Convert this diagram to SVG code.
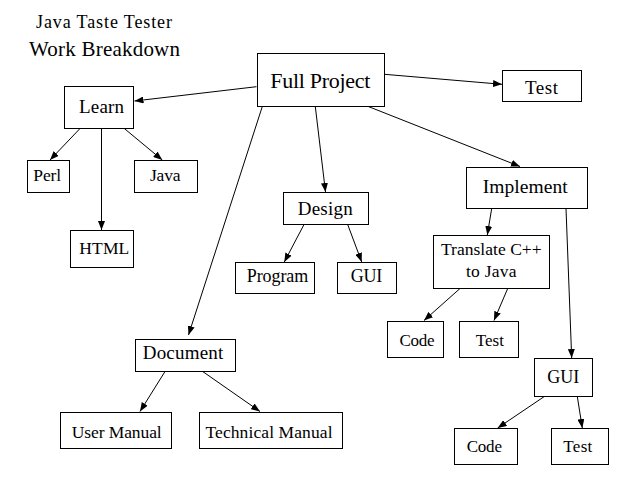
<svg xmlns="http://www.w3.org/2000/svg" width="640" height="480" viewBox="0 0 640 480">
<defs>
<marker id="ah" markerUnits="userSpaceOnUse" markerWidth="9" markerHeight="7" refX="9" refY="3.5" orient="auto">
<path d="M0,0 L9,3.5 L0,7 z" fill="#000"/>
</marker>
<style>
rect{fill:#fff;stroke:#000;stroke-width:1}
text{font-family:"Liberation Serif","Times New Roman",serif;fill:#000;text-anchor:middle}
.c line{stroke:#000;stroke-width:1;marker-end:url(#ah)}
.t{text-anchor:start}
</style>
</defs>
<rect x="0" y="0" width="640" height="480" style="stroke:none"/>
<g id="title">
<text class="t" x="36" y="27.5" font-size="18" textLength="136">Java Taste Tester</text>
<text class="t" x="29" y="56" font-size="21" textLength="151">Work Breakdown</text>
</g>
<g class="c" id="connectors">
<line x1="256.5" y1="86.7" x2="134.5" y2="101"/>
<line x1="384.5" y1="74.3" x2="502" y2="84.3"/>
<line x1="262.3" y1="106.5" x2="188.5" y2="335"/>
<line x1="315.3" y1="106.5" x2="325.5" y2="192"/>
<line x1="368.3" y1="106.5" x2="520" y2="166.5"/>
<line x1="80" y1="128.5" x2="50" y2="160"/>
<line x1="101.5" y1="128.5" x2="101.5" y2="230"/>
<line x1="124.3" y1="128.5" x2="162.3" y2="160"/>
<line x1="304" y1="224.5" x2="284.3" y2="262"/>
<line x1="347.7" y1="224.5" x2="361.7" y2="262"/>
<line x1="491.7" y1="208.5" x2="487.3" y2="235"/>
<line x1="566" y1="208.5" x2="571.7" y2="358"/>
<line x1="460" y1="288.5" x2="424" y2="320.5"/>
<line x1="507.7" y1="288.5" x2="494" y2="320.5"/>
<line x1="165" y1="371.5" x2="140" y2="411.5"/>
<line x1="202.7" y1="371.5" x2="260" y2="411.5"/>
<line x1="544.3" y1="396.5" x2="497.7" y2="428"/>
<line x1="577.3" y1="396.5" x2="582.3" y2="428"/>
</g>
<g id="full-project"><rect x="257.5" y="53.5" width="127" height="53"/><text x="320.3" y="87.7" font-size="22" textLength="100">Full Project</text></g>
<g id="test-top"><rect x="502.5" y="70.5" width="79" height="31"/><text x="541.5" y="94" font-size="19" textLength="33">Test</text></g>
<g id="learn"><rect x="64.5" y="86.5" width="69" height="42"/><text x="101.5" y="112.7" font-size="19" textLength="45">Learn</text></g>
<g id="perl"><rect x="27.5" y="160.5" width="42" height="32"/><text x="47.2" y="180.7" font-size="17.5" textLength="27.7">Perl</text></g>
<g id="java"><rect x="134.5" y="160.5" width="63" height="32"/><text x="165.3" y="180.7" font-size="17.5" textLength="30.7">Java</text></g>
<g id="html"><rect x="70.5" y="230.5" width="63" height="37"/><text x="104.3" y="254" font-size="17.5" textLength="50">HTML</text></g>
<g id="design"><rect x="283.5" y="192.5" width="85" height="32"/><text x="325.2" y="215" font-size="19" textLength="55">Design</text></g>
<g id="program"><rect x="235.5" y="262.5" width="79" height="31"/><text x="277.5" y="281.7" font-size="18" textLength="61.6">Program</text></g>
<g id="gui-design"><rect x="337.5" y="262.5" width="59" height="31"/><text x="366.5" y="281.7" font-size="18" textLength="31.6">GUI</text></g>
<g id="implement"><rect x="466.5" y="167.5" width="121" height="41"/><text x="525.2" y="193.3" font-size="19.5" textLength="85">Implement</text></g>
<g id="translate"><rect x="433.5" y="235.5" width="116" height="53"/><text x="491.3" y="255" font-size="17.5" textLength="100.7">Translate C++</text><text x="491.3" y="276.7" font-size="17.5" textLength="50.7">to Java</text></g>
<g id="code-mid"><rect x="387.5" y="321.5" width="56" height="36"/><text x="417" y="346" font-size="17" textLength="35">Code</text></g>
<g id="test-mid"><rect x="459.5" y="321.5" width="59" height="36"/><text x="489.8" y="346" font-size="17" textLength="28.3">Test</text></g>
<g id="gui-impl"><rect x="534.5" y="358.5" width="58" height="38"/><text x="563.3" y="383.3" font-size="18" textLength="32">GUI</text></g>
<g id="code-bottom"><rect x="454.5" y="428.5" width="63" height="36"/><text x="484.3" y="451.7" font-size="17" textLength="35.3">Code</text></g>
<g id="test-bottom"><rect x="551.5" y="428.5" width="57" height="36"/><text x="577.8" y="451.7" font-size="17" textLength="29">Test</text></g>
<g id="document"><rect x="135.5" y="339.5" width="100" height="32"/><text x="183" y="359.3" font-size="19" textLength="80.6">Document</text></g>
<g id="user-manual"><rect x="60.5" y="412.5" width="111" height="36"/><text x="116.7" y="438" font-size="17.5" textLength="90">User Manual</text></g>
<g id="technical-manual"><rect x="199.5" y="412.5" width="143" height="36"/><text x="269" y="438" font-size="17.5" textLength="127">Technical Manual</text></g>
</svg>
